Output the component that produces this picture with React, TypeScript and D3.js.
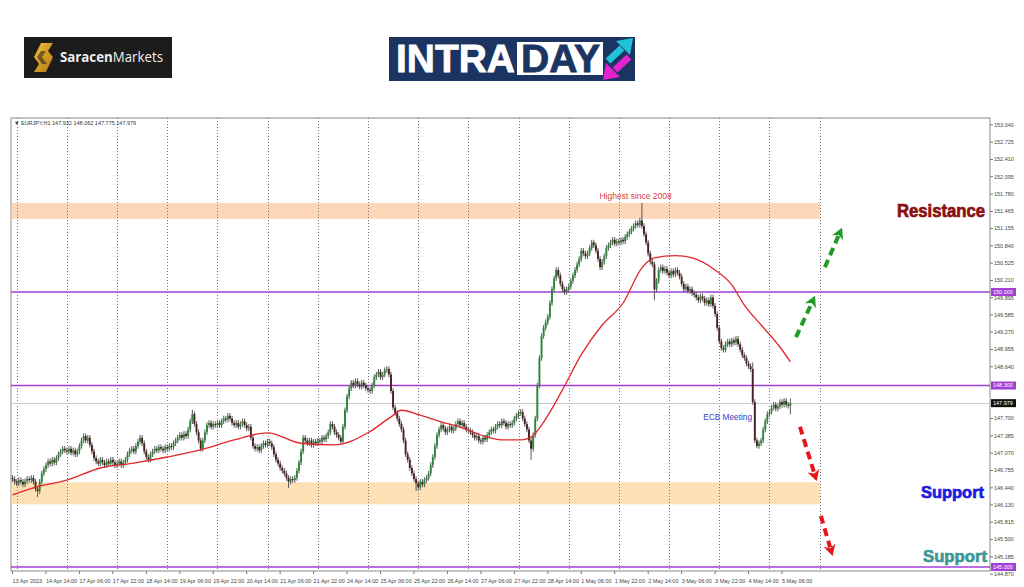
import React from 'react';
import * as d3 from 'd3';

// ---------- DATA (EURJPY H1 closes) ----------
const apr13 = [146.60, 146.55];
const apr14 = [146.52,146.58,146.55,146.50,146.56,146.60,146.58,146.62,146.55,146.42,146.38,146.55,146.70,146.78,146.85,146.92,146.88,146.95,146.90,146.98,147.05,147.10,147.15,147.12];
const apr17 = [147.10,147.15,147.08,147.12,147.05,147.10,147.20,147.30,147.38,147.30,147.35,147.22,147.10,146.98,146.92,146.88,146.95,146.90,146.85,146.92,146.88,146.95,146.90,146.85];
const apr18 = [146.88,146.92,146.85,146.90,146.95,147.05,147.12,147.15,147.10,147.20,147.28,147.35,147.25,147.10,147.00,146.95,147.05,147.10,147.15,147.12,147.18,147.15,147.12,147.18];
const apr19 = [147.15,147.20,147.18,147.25,147.30,147.35,147.40,147.35,147.42,147.38,147.50,147.65,147.78,147.60,147.45,147.30,147.15,147.30,147.45,147.58,147.62,147.55,147.60,147.58];
const apr20 = [147.62,147.58,147.65,147.70,147.68,147.75,147.70,147.62,147.58,147.62,147.55,147.60,147.65,147.58,147.52,147.55,147.35,147.20,147.15,147.18,147.12,147.20,147.25,147.22];
const apr21 = [147.28,147.25,147.18,147.05,146.95,146.88,146.80,146.75,146.70,146.62,146.55,146.60,146.58,146.62,146.75,146.90,147.10,147.35,147.30,147.25,147.30,147.22,147.28,147.25];
const apr24 = [147.30,147.28,147.35,147.32,147.38,147.45,147.60,147.55,147.45,147.40,147.35,147.28,147.55,147.85,148.10,148.25,148.35,148.30,148.38,148.32,148.28,148.35,148.30,148.25];
const apr25 = [148.22,148.20,148.30,148.45,148.50,148.55,148.45,148.50,148.58,148.60,148.50,148.20,147.90,147.80,147.70,147.60,147.50,147.30,147.05,146.95,146.80,146.70,146.60,146.52];
const apr26 = [146.45,146.55,146.50,146.58,146.62,146.70,146.85,147.00,147.20,147.40,147.50,147.58,147.52,147.45,147.50,147.55,147.48,147.52,147.60,147.65,147.58,147.62,147.55,147.50];
const apr27 = [147.48,147.45,147.40,147.35,147.38,147.30,147.28,147.35,147.32,147.40,147.45,147.50,147.48,147.55,147.60,147.58,147.65,147.62,147.55,147.60,147.58,147.62,147.70,147.75];
const apr28 = [147.80,147.82,147.70,147.60,147.50,147.30,147.15,147.40,147.70,148.30,148.80,149.20,149.35,149.45,149.55,149.80,150.05,150.25,150.40,150.30,150.15,150.05,150.00,150.05];
const may1 = [150.10,150.20,150.30,150.40,150.50,150.60,150.75,150.70,150.65,150.70,150.80,150.90,150.85,150.75,150.60,150.45,150.55,150.65,150.80,150.85,150.90,150.95,150.88,150.92];
const may2 = [150.90,150.95,150.92,151.00,151.05,151.10,151.15,151.20,151.25,151.22,151.30,151.20,151.05,150.90,150.70,150.55,150.50,150.05,150.20,150.40,150.45,150.38,150.42,150.35];
const may3 = [150.30,150.38,150.32,150.40,150.35,150.28,150.15,150.05,150.10,150.02,150.05,149.98,149.95,149.90,149.85,149.92,149.88,149.80,149.85,149.78,149.90,149.75,149.60,149.35];
const may4 = [149.10,148.98,148.95,149.05,149.10,149.05,149.12,149.08,149.15,149.05,148.95,148.85,148.80,148.70,148.65,148.60,148.00,147.30,147.20,147.25,147.30,147.50,147.65,147.78];
const may5 = [147.82,147.90,147.95,147.88,147.92,148.00,147.95,148.02,147.95,147.932,147.979];

const firstOpen = 146.62;
// notable wicks: [bar, high] and [bar, low]
const spikeHighs = [[86, 147.86], [301, 151.62], [372, 148.062], [354, 148.72]];
const spikeLows = [[12, 146.27], [132, 146.44], [193, 146.38], [248, 146.95], [307, 149.85], [356, 147.16], [372, 147.775]];

// 50-period MA
const maBars = [0,10,26,42,58,74,90,106,122,138,154,170,181,186,195,205,215,224,234,243,248,253,263,272,282,292,301,307,317,325,336,344,350,358,367,372];
const maValues = [146.31,146.44,146.58,146.80,146.89,147.00,147.13,147.31,147.44,147.25,147.22,147.44,147.73,147.85,147.76,147.64,147.53,147.40,147.31,147.31,147.36,147.58,148.22,148.86,149.40,149.80,150.44,150.62,150.66,150.62,150.40,150.13,149.76,149.40,149.00,148.73];

const yTicks = [153.040,152.725,152.410,152.095,151.780,151.465,151.155,150.840,150.525,150.210,149.895,149.585,149.270,148.955,148.640,147.700,147.385,147.070,146.755,146.440,146.130,145.815,145.500,145.185,144.870];
const xLabels = ["13 Apr 2023","14 Apr 14:00","17 Apr 06:00","17 Apr 22:00","18 Apr 14:00","19 Apr 06:00","19 Apr 22:00","20 Apr 14:00","21 Apr 06:00","21 Apr 22:00","24 Apr 14:00","25 Apr 06:00","25 Apr 22:00","26 Apr 14:00","27 Apr 06:00","27 Apr 22:00","28 Apr 14:00","1 May 06:00","1 May 22:00","2 May 14:00","3 May 06:00","3 May 22:00","4 May 14:00","5 May 06:00"];
const levels = [150.0, 148.3, 145.0];
const lastPrice = 147.979;
const resistanceZone = [151.33, 151.62];
const supportZone = [146.14, 146.54];
// arrows: [fromBar, fromPrice, toBar, toPrice]
const greenArrows = [[374.7, 149.18, 383.8, 149.93], [388.5, 150.45, 396.7, 151.17]];
const redArrows = [[376.6, 147.55, 384.6, 146.56], [386.6, 145.93, 392.2, 145.20]];

const FONT = '"Liberation Sans", Arial, sans-serif';

function Arrow({ x1, y1, x2, y2, color }: any) {
  const dx = x2 - x1, dy = y2 - y1;
  const len = Math.hypot(dx, dy);
  const ux = dx / len, uy = dy / len;
  const headL = 11, headW = 6;
  const bx = x2 - ux * headL, by = y2 - uy * headL;
  const px = -uy, py = ux;
  const pts = [
    [x2, y2],
    [bx + px * headW, by + py * headW],
    [bx + ux * 3, by + uy * 3],
    [bx - px * headW, by - py * headW],
  ];
  return (
    <g>
      <line x1={x1} y1={y1} x2={bx + ux * 2} y2={by + uy * 2} stroke={color} strokeWidth={4} strokeDasharray="8,5" />
      <polygon points={pts.map(p => p.join(',')).join(' ')} fill={color} />
    </g>
  );
}

export default function App() {
  const closes = [...apr13, ...apr14, ...apr17, ...apr18, ...apr19, ...apr20, ...apr21, ...apr24, ...apr25, ...apr26, ...apr27, ...apr28, ...may1, ...may2, ...may3, ...may4, ...may5];
  const hiMap = new Map(spikeHighs.map(d => [d[0], d[1]]));
  const loMap = new Map(spikeLows.map(d => [d[0], d[1]]));
  const candles = closes.map((c, i) => {
    const o = i === 0 ? firstOpen : closes[i - 1];
    const h = hiMap.has(i) ? hiMap.get(i)! : Math.max(o, c) + 0.05;
    const l = loMap.has(i) ? loMap.get(i)! : Math.min(o, c) - 0.05;
    return { i, o, c, h, l };
  });

  const left = 11, right = 990, top = 118, bottom = 571;
  const x = d3.scaleLinear().domain([0, 368]).range([12.5, 782]);
  const y = d3.scaleLinear().domain([145, 150]).range([567, 292]);
  const gridBars = d3.range(2, 387, 24);
  const zoneEnd = x(386);

  const maLine = d3.line<number>().x((_, k) => x(maBars[k])).y(v => y(v)).curve(d3.curveMonotoneX);

  return (
    <svg width={1024} height={587} style={{ position: 'absolute', left: 0, top: 0, background: '#fff' }} fontFamily={FONT}>
      <rect x={0} y={0} width={1024} height={587} fill="#fff" />
      {/* Saracen logo */}
      <rect x={24} y={37} width={148} height={41} fill="#1c1c1c" />
      <defs>
        <linearGradient id="gold" x1="0" y1="0" x2="1" y2="1">
          <stop offset="0" stopColor="#f7c437" />
          <stop offset="1" stopColor="#b07614" />
        </linearGradient>
      </defs>
      <polygon points="41,43 53,43 48,51 53,57 46,72 34,72 39,64 34,57" fill="url(#gold)" />
      <polygon points="41,51 46,51 42,57 47,64 42,64 37,57" fill="#1c1c1c" opacity={0.55} />
      <text x={60} y={62} fontSize={14} fill="#eeeeee" fontFamily='"Open Sans", sans-serif' textLength={103} lengthAdjust="spacingAndGlyphs">
        <tspan fontWeight={700}>Saracen</tspan><tspan fontWeight={400}>Markets</tspan>
      </text>

      {/* INTRADAY logo */}
      <rect x={389} y={37} width={246} height={44} fill="#1b3461" />
      <rect x={517} y={42} width={86} height={33} fill="#fff" />
      <text x={396} y={72} fontSize={39} fontWeight={700} fill="#fff" stroke="#fff" strokeWidth={0.8} fontFamily={FONT} textLength={119} lengthAdjust="spacingAndGlyphs">INTRA</text>
      <text x={521} y={72} fontSize={39} fontWeight={700} fill="#1b3461" stroke="#1b3461" strokeWidth={0.8} fontFamily={FONT} textLength={79} lengthAdjust="spacingAndGlyphs">DAY</text>
      <line x1={608} y1={61} x2={622} y2={48} stroke="#22c3d8" strokeWidth={7} />
      <polygon points="633,38 616,41 630,55" fill="#22c3d8" />
      <line x1={629} y1={57} x2={615} y2={70} stroke="#e423d0" strokeWidth={7} />
      <polygon points="603,80 606,63 620,77" fill="#e423d0" />

      {/* chart frame */}
      <rect x={left} y={top} width={right - left} height={bottom - top} fill="#fff" stroke="#8a8a8a" strokeWidth={1} />

      {/* zones */}
      <rect x={left + 0.5} y={y(resistanceZone[1])} width={zoneEnd - left} height={y(resistanceZone[0]) - y(resistanceZone[1])} fill="#fcd6b6" />
      <rect x={left + 0.5} y={y(supportZone[1])} width={zoneEnd - left} height={y(supportZone[0]) - y(supportZone[1])} fill="#fde1b4" />

      {/* vertical grid */}
      {gridBars.map(b => (
        <line key={b} x1={Math.round(x(b)) + 0.5} x2={Math.round(x(b)) + 0.5} y1={top} y2={bottom} stroke="#777" strokeWidth={1} strokeDasharray="1,2" />
      ))}

      {/* bid line */}
      <line x1={left} x2={right} y1={Math.round(y(lastPrice)) + 0.5} y2={Math.round(y(lastPrice)) + 0.5} stroke="#c9c9c9" strokeWidth={1} />

      {/* level lines */}
      {levels.map(v => (
        <line key={v} x1={left} x2={right} y1={y(v)} y2={y(v)} stroke="#a23fd6" strokeWidth={1.3} />
      ))}

      {/* candles */}
      {candles.map(d => {
        const up = d.c >= d.o;
        const cx = x(d.i);
        const yt = y(Math.max(d.o, d.c));
        const yb = y(Math.min(d.o, d.c));
        return (
          <g key={d.i}>
            <line x1={cx} x2={cx} y1={y(d.h)} y2={y(d.l)} stroke="#5a5a5a" strokeWidth={1} />
            <rect x={cx - 0.95} y={yt} width={1.9} height={Math.max(1, yb - yt)} fill={up ? '#2c8838' : '#4a2020'} />
          </g>
        );
      })}

      {/* moving average */}
      <path d={maLine(maValues) || ''} fill="none" stroke="#e0282c" strokeWidth={1.3} />

      {/* annotations */}
      <text x={x(298)} y={y(151.70)} fontSize={8.5} fill="#e03c3c" textAnchor="middle">Highest since 2008</text>
      <text x={x(342)} y={y(147.68)} fontSize={8.3} fill="#3d3dc4" textAnchor="middle">ECB Meeting</text>

      {greenArrows.map((a, k) => (
        <Arrow key={'g' + k} x1={x(a[0])} y1={y(a[1])} x2={x(a[2])} y2={y(a[3])} color="#1f9a25" />
      ))}
      {redArrows.map((a, k) => (
        <Arrow key={'r' + k} x1={x(a[0])} y1={y(a[1])} x2={x(a[2])} y2={y(a[3])} color="#e6171b" />
      ))}

      <text x={985} y={217} fontSize={18} fontWeight={700} fill="#8a1010" stroke="#8a1010" strokeWidth={0.7} textAnchor="end" textLength={88} lengthAdjust="spacingAndGlyphs">Resistance</text>
      <text x={984} y={498} fontSize={17} fontWeight={700} fill="#1c1ce0" stroke="#1c1ce0" strokeWidth={0.7} textAnchor="end" textLength={63} lengthAdjust="spacingAndGlyphs">Support</text>
      <text x={987} y={562} fontSize={17} fontWeight={700} fill="#3f9797" stroke="#3f9797" strokeWidth={0.7} textAnchor="end" textLength={64} lengthAdjust="spacingAndGlyphs">Support</text>

      {/* title */}
      <text x={14} y={125} fontSize={5.5} fill="#333">▼ EURJPY,H1  147.932 148.062 147.775 147.979</text>

      {/* right axis */}
      {yTicks.map(v => (
        <g key={v}>
          <line x1={right} x2={right + 3} y1={y(v)} y2={y(v)} stroke="#777" />
          <text x={right + 4} y={y(v)} dy="0.35em" fontSize={5.5} fill="#444">{v.toFixed(3)}</text>
        </g>
      ))}
      {levels.map(v => (
        <g key={'l' + v}>
          <rect x={right + 1} y={y(v) - 4} width={25} height={8} fill="#a23fd6" />
          <text x={right + 3} y={y(v)} dy="0.35em" fontSize={5.5} fill="#fff">{v.toFixed(3)}</text>
        </g>
      ))}
      <rect x={right + 1} y={y(lastPrice) - 4} width={25} height={8} fill="#111" />
      <text x={right + 3} y={y(lastPrice)} dy="0.35em" fontSize={5.5} fill="#fff">{lastPrice.toFixed(3)}</text>

      {/* bottom axis */}
      {xLabels.map((s, k) => (
        <g key={s}>
          <line x1={x(k * 16)} x2={x(k * 16)} y1={bottom} y2={bottom + 3} stroke="#777" />
          <text x={x(k * 16)} y={583} fontSize={5.5} fill="#444">{s}</text>
        </g>
      ))}
    </svg>
  );
}
